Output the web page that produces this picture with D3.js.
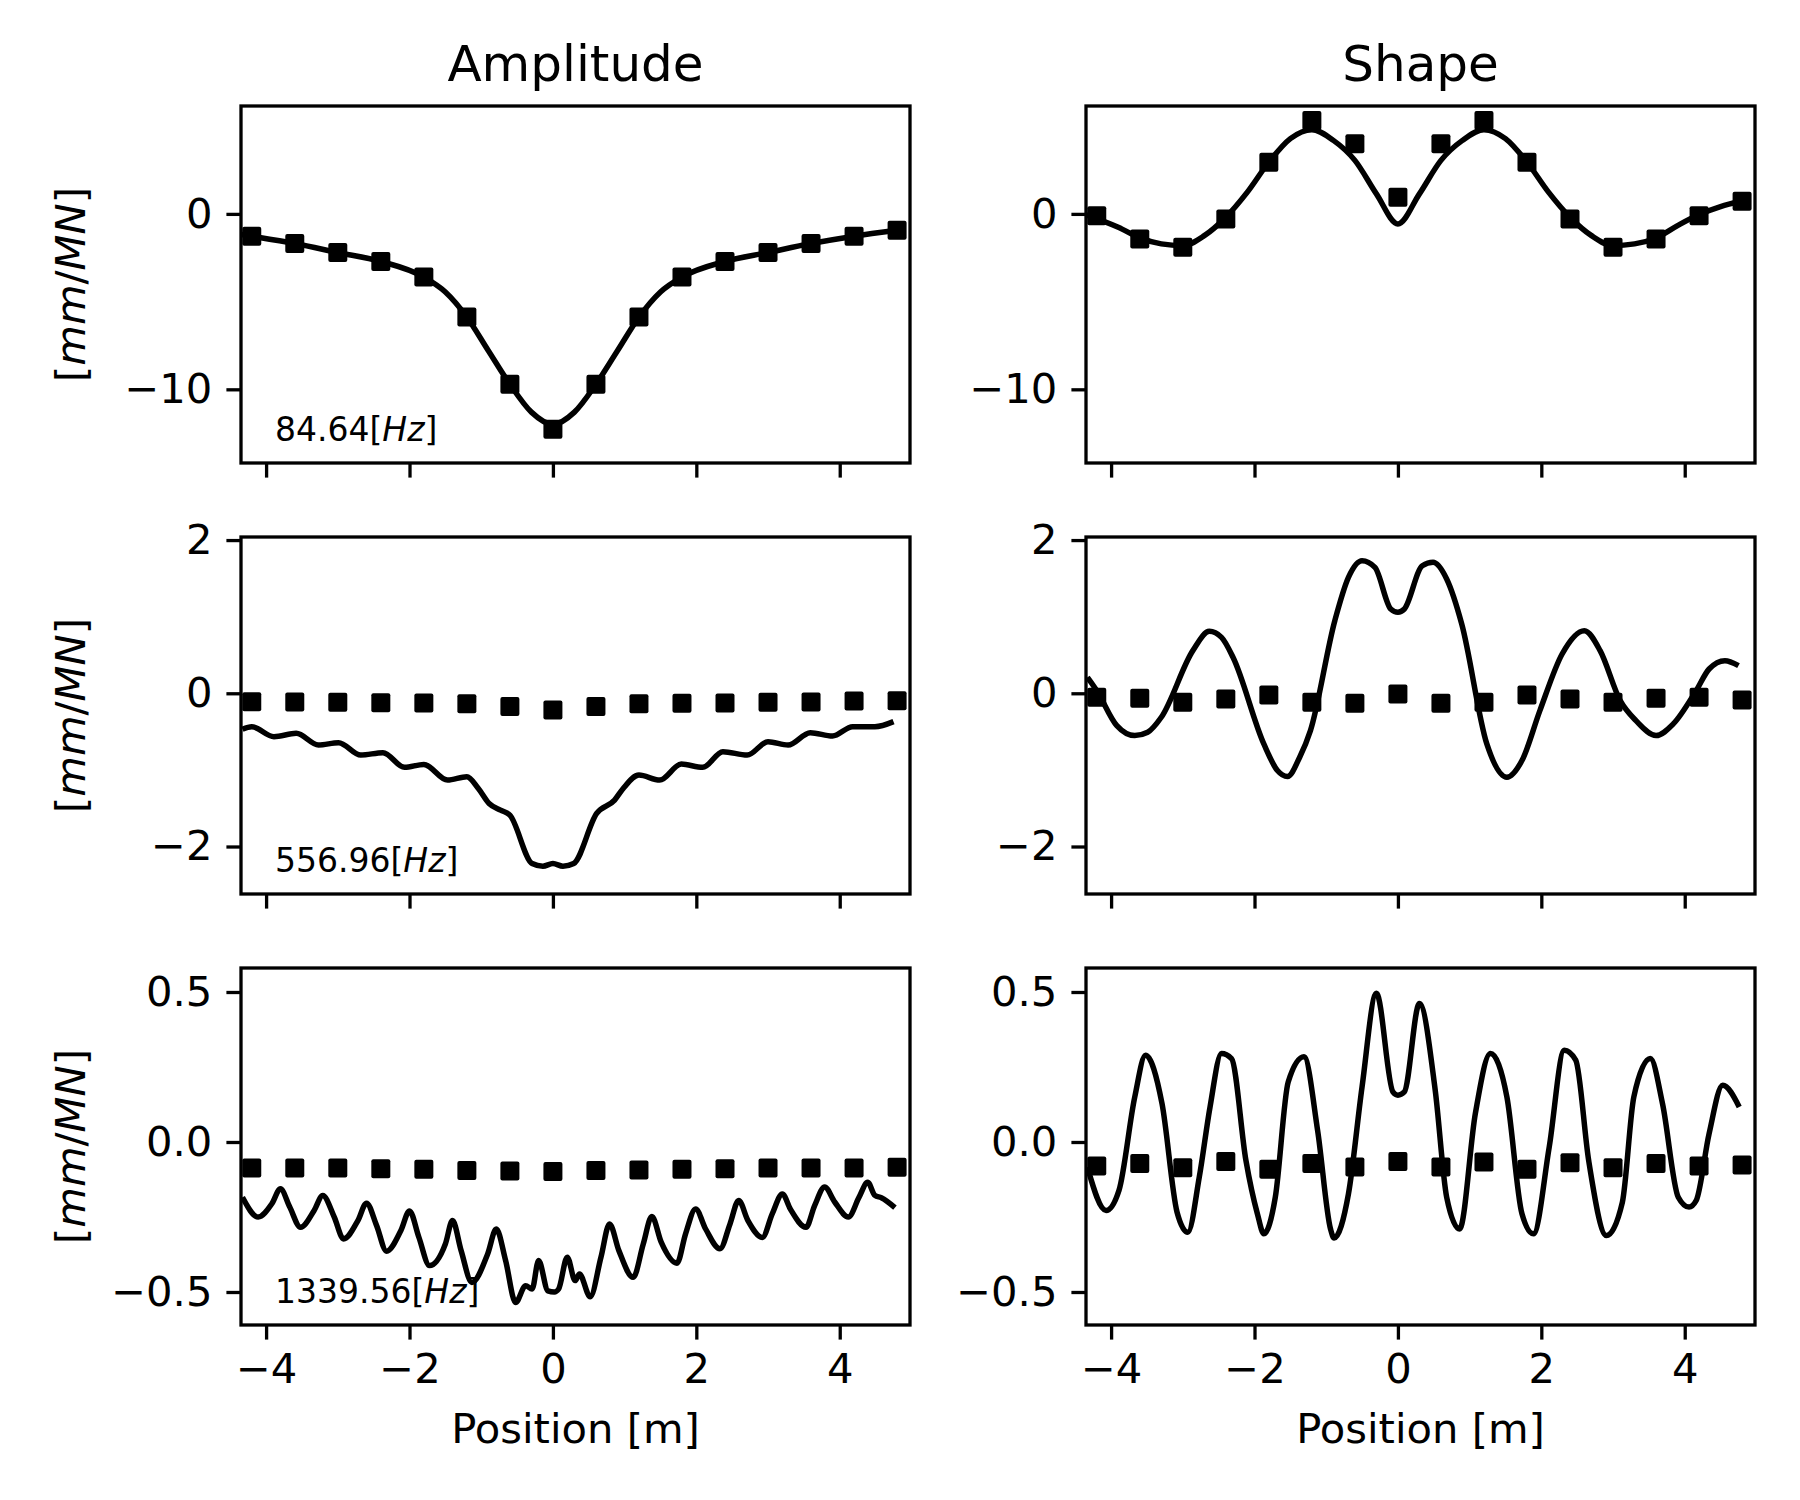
<!DOCTYPE html>
<html lang="en">
<head>
<meta charset="UTF-8">
<title>Amplitude / Shape</title>
<script src="https://cdn.jsdelivr.net/npm/d3@7"></script>
<style>
  body { margin: 0; background: #fff; }
  text { font-family: "DejaVu Sans", sans-serif; fill: #000; }
</style>
</head>
<body>
<script>
// ---- data ----
var columnTitles = ["Amplitude", "Shape"];
var freqLabels = ["84.64", "556.96", "1339.56"];
var xTicks = [-4, -2, 0, 2, 4];
var yTicks1 = [0, -10];
var yTicks2 = [2, 0, -2];
var yTicks3 = [0.5, 0, -0.5];

// measured positions (markers)
var markerX = [-4.2, -3.6, -3.0, -2.4, -1.8, -1.2, -0.6, 0, 0.6, 1.2, 1.8, 2.4, 3.0, 3.6, 4.2, 4.8];
var amp1Markers = [-1.27, -1.69, -2.2, -2.71, -3.6, -5.88, -9.71, -12.28, -9.71, -5.88, -3.6, -2.71, -2.2, -1.69, -1.27, -0.93];
var shape1Markers = [-0.1, -1.43, -1.9, -0.29, 2.95, 5.33, 4.0, 0.95, 4.0, 5.33, 2.95, -0.29, -1.9, -1.43, -0.1, 0.72];
var amp2Markers = [-0.109, -0.113, -0.118, -0.122, -0.126, -0.135, -0.174, -0.218, -0.174, -0.135, -0.131, -0.126, -0.118, -0.113, -0.1, -0.096];
var shape2Markers = [-0.052, -0.065, -0.117, -0.074, -0.022, -0.117, -0.13, -0.009, -0.13, -0.117, -0.022, -0.074, -0.117, -0.065, -0.052, -0.087];
var amp3Markers = [-0.087, -0.087, -0.087, -0.089, -0.091, -0.095, -0.097, -0.098, -0.095, -0.093, -0.091, -0.089, -0.087, -0.087, -0.087, -0.084];
var shape3Markers = [-0.080, -0.072, -0.086, -0.065, -0.091, -0.072, -0.083, -0.065, -0.083, -0.067, -0.091, -0.069, -0.086, -0.072, -0.080, -0.077];

// model curves (key points)
var amp1LineX = [-4.35, -4.2, -3.6, -3.0, -2.4, -1.8, -1.5, -1.2, -0.9, -0.6, -0.3, 0, 0.3, 0.6, 0.9, 1.2, 1.5, 1.8, 2.4, 3.0, 3.6, 4.2, 4.8];
var amp1LineY = [-1.17, -1.27, -1.69, -2.2, -2.71, -3.6, -4.45, -5.88, -7.8, -9.71, -11.3, -12.0, -11.3, -9.71, -7.8, -5.88, -4.45, -3.6, -2.71, -2.2, -1.69, -1.27, -0.93];

var shape1LineX = [-4.35, -3.9, -3.6, -3.3, -3.0, -2.7, -2.4, -2.1, -1.8, -1.5, -1.2, -0.9, -0.6, -0.3, 0, 0.3, 0.6, 0.9, 1.2, 1.5, 1.8, 2.1, 2.4, 2.7, 3.0, 3.3, 3.6, 3.9, 4.2, 4.5, 4.78];
var shape1LineY = [-0.05, -0.76, -1.37, -1.71, -1.81, -1.24, -0.19, 1.24, 2.95, 4.29, 4.8, 4.19, 3.05, 1.14, -0.57, 1.14, 3.05, 4.19, 4.8, 4.29, 2.95, 1.24, -0.19, -1.24, -1.81, -1.71, -1.37, -0.67, -0.04, 0.42, 0.72];

var amp2LineX = [-4.33, -4.2, -3.89, -3.58, -3.27, -2.99, -2.68, -2.37, -2.07, -1.8, -1.47, -1.2, -1.04, -0.89, -0.73, -0.6, -0.29, -0.14, 0, 0.14, 0.29, 0.61, 0.86, 0.98, 1.2, 1.49, 1.79, 2.09, 2.37, 2.71, 3.0, 3.28, 3.59, 3.9, 4.18, 4.49, 4.75];
var amp2LineY = [-0.47, -0.436, -0.566, -0.523, -0.675, -0.645, -0.806, -0.776, -0.967, -0.928, -1.133, -1.089, -1.242, -1.438, -1.525, -1.59, -2.222, -2.257, -2.222, -2.257, -2.222, -1.569, -1.394, -1.242, -1.068, -1.133, -0.924, -0.967, -0.762, -0.806, -0.632, -0.675, -0.514, -0.558, -0.436, -0.436, -0.37];

var shape2LineX = [-4.33, -4.2, -3.92, -3.67, -3.49, -3.3, -2.86, -2.63, -2.46, -2.3, -1.87, -1.68, -1.54, -1.37, -1.22, -0.88, -0.69, -0.5, -0.32, -0.1, 0, 0.09, 0.34, 0.49, 0.68, 0.89, 1.24, 1.52, 1.73, 1.98, 2.29, 2.6, 2.82, 3.1, 3.32, 3.6, 3.84, 4.16, 4.34, 4.56, 4.75];
var shape2LineY = [0.209, 0.035, -0.422, -0.552, -0.509, -0.313, 0.557, 0.809, 0.73, 0.47, -0.661, -1.009, -1.087, -0.835, -0.487, 0.948, 1.513, 1.73, 1.643, 1.1, 1.057, 1.1, 1.665, 1.709, 1.491, 0.904, -0.661, -1.096, -0.878, -0.226, 0.513, 0.817, 0.557, -0.096, -0.357, -0.552, -0.4, 0.035, 0.317, 0.426, 0.361];

var amp3LineX = [-4.33, -4.11, -3.92, -3.8, -3.67, -3.52, -3.33, -3.21, -3.05, -2.92, -2.72, -2.6, -2.46, -2.32, -2.12, -2.0, -1.87, -1.72, -1.5, -1.4, -1.28, -1.13, -0.91, -0.79, -0.66, -0.52, -0.38, -0.29, -0.2, -0.07, 0.02, 0.08, 0.2, 0.31, 0.37, 0.52, 0.67, 0.79, 0.92, 1.12, 1.26, 1.38, 1.51, 1.73, 1.85, 1.99, 2.13, 2.33, 2.47, 2.59, 2.72, 2.92, 3.06, 3.2, 3.31, 3.53, 3.65, 3.79, 3.93, 4.12, 4.27, 4.39, 4.49, 4.58, 4.77];
var amp3LineY = [-0.184, -0.25, -0.206, -0.156, -0.217, -0.284, -0.228, -0.178, -0.25, -0.323, -0.262, -0.204, -0.278, -0.364, -0.295, -0.23, -0.317, -0.412, -0.34, -0.262, -0.362, -0.468, -0.373, -0.29, -0.395, -0.535, -0.479, -0.49, -0.395, -0.496, -0.5, -0.49, -0.384, -0.462, -0.44, -0.516, -0.384, -0.273, -0.362, -0.451, -0.34, -0.248, -0.334, -0.404, -0.306, -0.223, -0.29, -0.356, -0.273, -0.195, -0.262, -0.318, -0.239, -0.173, -0.223, -0.284, -0.212, -0.15, -0.2, -0.25, -0.184, -0.134, -0.178, -0.186, -0.219];

var shape3LineX = [-4.33, -4.07, -3.89, -3.67, -3.52, -3.29, -3.08, -2.93, -2.77, -2.62, -2.46, -2.32, -2.12, -1.96, -1.87, -1.71, -1.53, -1.31, -1.12, -0.94, -0.89, -0.69, -0.5, -0.3, -0.07, 0, 0.09, 0.3, 0.52, 0.68, 0.86, 1.08, 1.29, 1.52, 1.73, 1.89, 2.11, 2.32, 2.48, 2.66, 2.91, 3.13, 3.29, 3.52, 3.69, 3.91, 4.06, 4.16, 4.34, 4.53, 4.76];
var shape3LineY = [-0.084, -0.228, -0.161, 0.15, 0.289, 0.128, -0.234, -0.301, -0.117, 0.117, 0.295, 0.278, -0.061, -0.239, -0.306, -0.184, 0.2, 0.284, 0.039, -0.29, -0.32, -0.173, 0.184, 0.496, 0.167, 0.156, 0.167, 0.462, 0.173, -0.184, -0.29, 0.095, 0.295, 0.15, -0.239, -0.306, -0.017, 0.306, 0.273, -0.061, -0.312, -0.201, 0.15, 0.278, 0.128, -0.184, -0.217, -0.195, 0.028, 0.189, 0.117];

// ---- layout ----
var widthOfTotalDisplay = 1800;
var heightOfTotalDisplay = 1500;
var colLeft = [241, 1086];
var rowTop = [106, 537, 968];
var axW = 669, axH = 357;
var xDomain = [-4.35, 4.98];
var yDomains = [[-14.2, 6.15], [-2.62, 2.04], [-0.61, 0.58]];
var yTickSets = [yTicks1, yTicks2, yTicks3];
var yFormats = [d3.format(".0f"), d3.format(".0f"), d3.format(".1f")];

var tickFont = 41.7, labelFont = 41.7, titleFont = 50, noteFont = 33;
var tickLen = 14.6, tickW = 3.3, lineW = 5.5, markerSize = 19;

function zip(xs, ys) {
  return xs.map(function (x, i) { return [x, ys[i]]; });
}

var panels = [
  [{line: zip(amp1LineX, amp1LineY), marks: zip(markerX, amp1Markers)},
   {line: zip(shape1LineX, shape1LineY), marks: zip(markerX, shape1Markers)}],
  [{line: zip(amp2LineX, amp2LineY), marks: zip(markerX, amp2Markers)},
   {line: zip(shape2LineX, shape2LineY), marks: zip(markerX, shape2Markers)}],
  [{line: zip(amp3LineX, amp3LineY), marks: zip(markerX, amp3Markers)},
   {line: zip(shape3LineX, shape3LineY), marks: zip(markerX, shape3Markers)}]
];

var svg = d3.select("body").append("svg")
  .attr("width", widthOfTotalDisplay)
  .attr("height", heightOfTotalDisplay);

svg.append("rect").attr("width", widthOfTotalDisplay).attr("height", heightOfTotalDisplay).attr("fill", "#fff");

panels.forEach(function (row, r) {
  row.forEach(function (p, c) {
    var x = d3.scaleLinear().domain(xDomain).range([0, axW]);
    var y = d3.scaleLinear().domain(yDomains[r]).range([axH, 0]);

    var g = svg.append("g")
      .attr("transform", "translate(" + colLeft[c] + "," + rowTop[r] + ")");

    var clipId = "clip-" + r + "-" + c;
    g.append("clipPath").attr("id", clipId)
      .append("rect").attr("width", axW).attr("height", axH);

    var plot = g.append("g").attr("clip-path", "url(#" + clipId + ")");

    var line = d3.line()
      .x(function (d) { return x(d[0]); })
      .y(function (d) { return y(d[1]); })
      .curve(d3.curveMonotoneX);

    plot.append("path")
      .datum(p.line)
      .attr("d", line)
      .attr("fill", "none")
      .attr("stroke", "#000")
      .attr("stroke-width", lineW)
      .attr("stroke-linejoin", "round");

    plot.selectAll(".marker")
      .data(p.marks)
      .enter()
      .append("rect")
      .classed("marker", true)
      .attr("x", function (d) { return x(d[0]) - markerSize / 2; })
      .attr("y", function (d) { return y(d[1]) - markerSize / 2; })
      .attr("width", markerSize)
      .attr("height", markerSize)
      .attr("rx", 2)
      .attr("fill", "#000");

    // y axis
    var yAxis = d3.axisLeft(y)
      .tickValues(yTickSets[r])
      .tickFormat(yFormats[r])
      .tickSize(tickLen)
      .tickPadding(14);
    var ya = g.append("g").call(yAxis);
    ya.select(".domain").remove();
    ya.selectAll("line").attr("stroke-width", tickW);
    ya.selectAll("text").style("font-size", tickFont + "px").attr("font-family", null);

    // x axis
    var xAxis = d3.axisBottom(x)
      .tickValues(xTicks)
      .tickFormat(r === 2 ? d3.format(".0f") : "")
      .tickSize(tickLen)
      .tickPadding(14);
    var xa = g.append("g").attr("transform", "translate(0," + axH + ")").call(xAxis);
    xa.select(".domain").remove();
    xa.selectAll("line").attr("stroke-width", tickW);
    xa.selectAll("text").style("font-size", tickFont + "px").attr("font-family", null);

    // frame
    g.append("rect")
      .attr("width", axW).attr("height", axH)
      .attr("fill", "none").attr("stroke", "#000").attr("stroke-width", tickW);

    if (r === 0) {
      g.append("text")
        .attr("x", axW / 2).attr("y", -25)
        .attr("text-anchor", "middle")
        .style("font-size", titleFont + "px")
        .text(columnTitles[c]);
    }
    if (r === 2) {
      g.append("text")
        .attr("x", axW / 2).attr("y", axH + 118)
        .attr("text-anchor", "middle")
        .style("font-size", labelFont + "px")
        .text("Position [m]");
    }
    if (c === 0) {
      var yl = svg.append("text")
        .attr("transform", "translate(85," + (rowTop[r] + axH / 2) + ") rotate(-90)")
        .attr("text-anchor", "middle")
        .style("font-size", labelFont + "px");
      yl.append("tspan").text("[");
      yl.append("tspan").style("font-style", "italic").text("mm");
      yl.append("tspan").text("/");
      yl.append("tspan").style("font-style", "italic").text("MN");
      yl.append("tspan").text("]");

      var note = g.append("text")
        .attr("x", 34).attr("y", axH - 22)
        .style("font-size", noteFont + "px");
      note.append("tspan").text(freqLabels[r] + "[");
      note.append("tspan").style("font-style", "italic").text("Hz");
      note.append("tspan").text("]");
    }
  });
});
</script>
</body>
</html>
